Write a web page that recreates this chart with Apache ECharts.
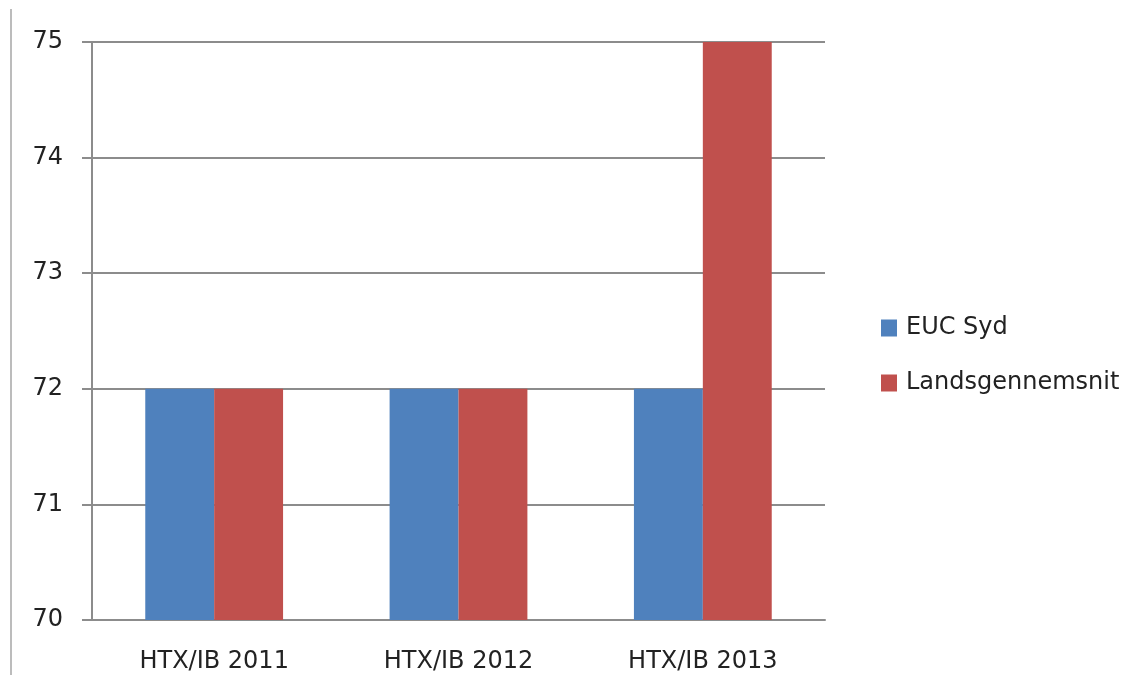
<!DOCTYPE html>
<html lang="en">
<head>
  <meta charset="utf-8">
  <title>EUC Syd</title>
  <script src="https://cdn.jsdelivr.net/npm/echarts@6/dist/echarts.min.js"></script>
  <style>
    html, body { margin: 0; padding: 0; background: #fff; }
    #chart { width: 1131px; height: 675px; }
  </style>
</head>
<body>
<div id="chart"></div>
<script>
  const categories = ['HTX/IB 2011', 'HTX/IB 2012', 'HTX/IB 2013'];
  const eucSyd = [72, 72, 72];
  const landsgennemsnit = [72, 72, 75];

  const chart = echarts.init(document.getElementById('chart'));
  const font = 'DejaVu Sans';

  chart.setOption({
    animation: false,
    graphic: [{
      type: 'line',
      shape: { x1: 11, y1: 9, x2: 11, y2: 675 },
      style: { stroke: '#a6a6a6', lineWidth: 1.5 }
    }],
    legend: {
      orient: 'vertical',
      left: 876,
      top: 311,
      itemWidth: 16,
      itemHeight: 17,
      itemGap: 31,
      icon: 'rect',
      textStyle: { fontFamily: font, fontSize: 24, color: '#222', padding: [0, 0, 0, 4] },
      data: ['EUC Syd', 'Landsgennemsnit']
    },
    grid: { left: 92, top: 42, width: 733, height: 578, containLabel: false },
    xAxis: {
      type: 'category',
      data: categories,
      axisLine: { lineStyle: { color: '#8c8c8c', width: 2 } },
      axisTick: { length: 10, lineStyle: { color: '#8c8c8c', width: 2 } },
      axisLabel: { fontFamily: font, fontSize: 24, color: '#222', margin: 30 }
    },
    yAxis: {
      type: 'value',
      min: 70,
      max: 75,
      interval: 1,
      axisLine: { show: true, lineStyle: { color: '#8c8c8c', width: 2 } },
      axisTick: { show: true, length: 10, lineStyle: { color: '#8c8c8c', width: 2 } },
      axisLabel: { fontFamily: font, fontSize: 24, color: '#222', margin: 29 },
      splitLine: { lineStyle: { color: '#8c8c8c', width: 2 } }
    },
    series: [{
      name: 'EUC Syd',
      type: 'bar',
      data: eucSyd,
      barGap: '0%',
      barCategoryGap: '43.6%',
      itemStyle: { color: '#4f81bd' }
    }, {
      name: 'Landsgennemsnit',
      type: 'bar',
      data: landsgennemsnit,
      itemStyle: { color: '#c0504d' }
    }]
  });
</script>
</body>
</html>
